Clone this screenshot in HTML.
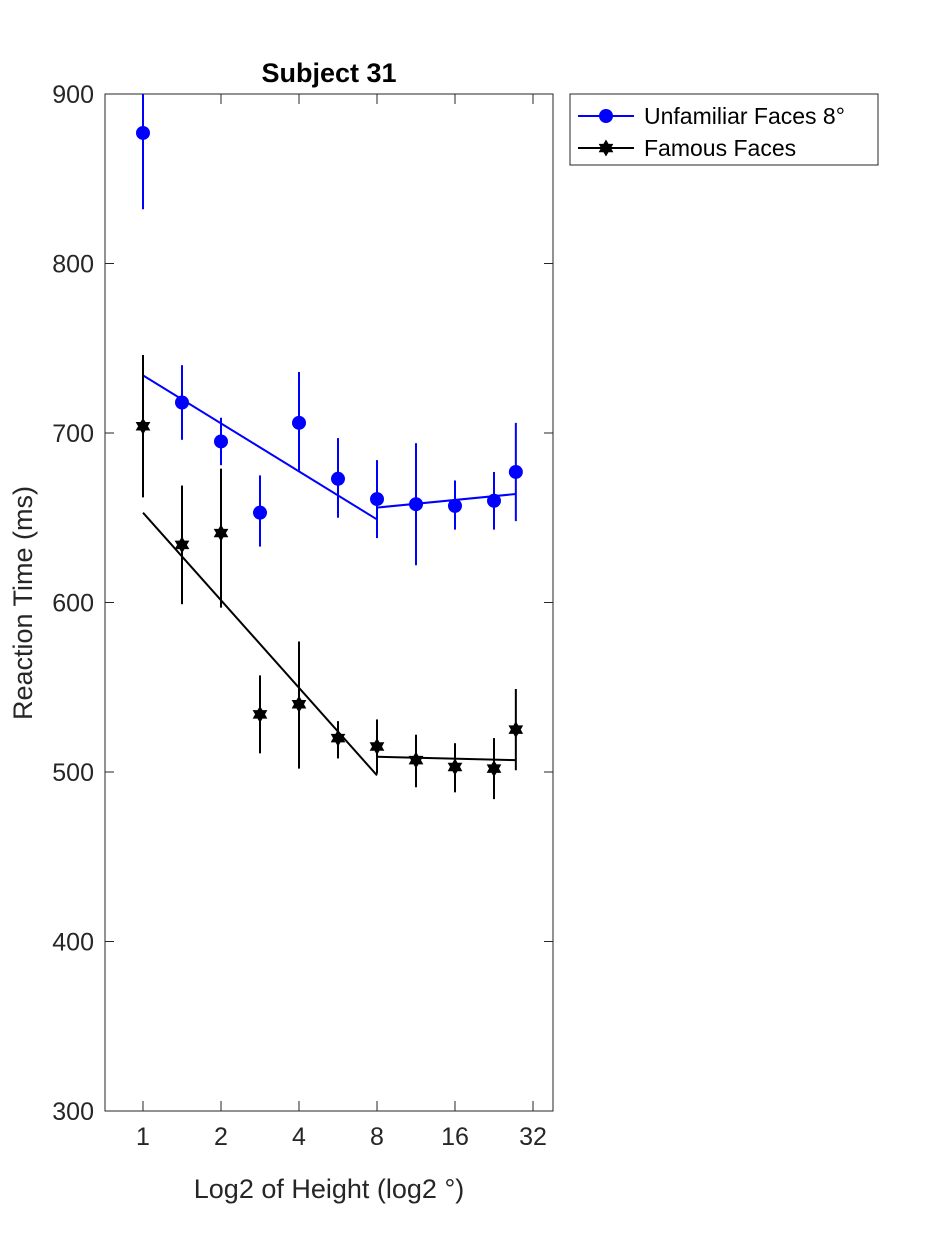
<!DOCTYPE html>
<html><head><meta charset="utf-8"><style>
body{margin:0;background:#fff}
svg text{font-family:"Liberation Sans",sans-serif}
</style></head><body>
<svg id="chart" width="938" height="1250" xmlns="http://www.w3.org/2000/svg">
<rect width="938" height="1250" fill="#fff"/>
<defs><clipPath id="pc"><rect x="105" y="94" width="448" height="1017"/></clipPath></defs>
<g id="plot"></g>
</svg>
<script>
const xLog = [0,0.5,1,1.5,2,2.5,3,3.5,4,4.5,4.78];
const blueMean = [877,718,695,653,706,673,661,658,657,660,677];
const blueHi   = [905,740,709,675,736,697,684,694,672,677,706];
const blueLo   = [832,696,681,633,677,650,638,622,643,643,648];
const blackMean= [704,634,641,534,540,520,515,507,503,502,525];
const blackHi  = [746,669,679,557,577,530,531,522,517,520,549];
const blackLo  = [662,599,597,511,502,508,499,491,488,484,501];
const blueFitX = [[0,3],[3,4.78]];
const blueFitY = [[734,649],[656,664]];
const blackFitX= [[0,3],[3,4.78]];
const blackFitY= [[653,498],[509,507]];
const yTicks = [300,400,500,600,700,800,900];
const xTicks = [0,1,2,3,4,5];
const xTickLabels = ["1","2","4","8","16","32"];

const L=105,R=553,T=94,B=1111;
const X=v=>143+v*78;
const Y=v=>T+(900-v)*(B-T)/600;
const NS="http://www.w3.org/2000/svg";
const svg=document.getElementById('chart');
const g=document.getElementById('plot');
function mk(tag,attrs,parent){const e=document.createElementNS(NS,tag);for(const k in attrs)e.setAttribute(k,attrs[k]);(parent||g).appendChild(e);return e;}

const frame=mk('rect',{x:L,y:T,width:R-L,height:B-T,fill:'none',stroke:'#262626','stroke-width':1});


yTicks.forEach(v=>{
  const y=Y(v);
  const t1=mk('line',{x1:L,x2:L+9,y1:y,y2:y,stroke:'#262626'});
  
  
  mk('line',{x1:R-9,x2:R,y1:y,y2:y,stroke:'#262626'});
  const tx=mk('text',{x:L-11,y:y+9,'text-anchor':'end','font-size':25,fill:'#262626'});
  tx.textContent=v;
  
  
});
xTicks.forEach((v,i)=>{
  const x=X(v);
  const t1=mk('line',{x1:x,x2:x,y1:B,y2:B-10,stroke:'#262626'});
  
  
  mk('line',{x1:x,x2:x,y1:T,y2:T+10,stroke:'#262626'});
  const tx=mk('text',{x:x,y:B+34,'text-anchor':'middle','font-size':25,fill:'#262626'});
  tx.textContent=xTickLabels[i];
  
  
});
const title=mk('text',{x:329,y:82,'text-anchor':'middle','font-size':27,'font-weight':'bold',fill:'#000'});
title.textContent='Subject 31';


const xl=mk('text',{x:329,y:1198,'text-anchor':'middle','font-size':27,fill:'#262626'});
xl.textContent='Log2 of Height (log2 °)';


const yl=mk('text',{x:0,y:0,'text-anchor':'middle','font-size':27,fill:'#262626',transform:'translate(32,603) rotate(-90)'});
yl.textContent='Reaction Time (ms)';



const cg=mk('g',{'clip-path':'url(#pc)'});
function star(cx,cy,r,col,parent){
  const pts=[];
  for(let k=0;k<12;k++){const a=-Math.PI/2+k*Math.PI/6;const rr=k%2?r*0.58:r;pts.push((cx+rr*Math.cos(a)).toFixed(1)+','+(cy+rr*Math.sin(a)).toFixed(1));}
  return mk('polygon',{points:pts.join(' '),fill:col,stroke:col},parent);
}
function series(mean,hi,lo,fx,fy,col,name,marker){
  fx.forEach((seg,i)=>{
    const l=mk('line',{x1:X(seg[0]),x2:X(seg[1]),y1:Y(fy[i][0]),y2:Y(fy[i][1]),stroke:col,'stroke-width':2},cg);
    
    
  });
  xLog.forEach((xv,i)=>{
    const e=mk('line',{x1:X(xv),x2:X(xv),y1:Y(hi[i]),y2:Y(lo[i]),stroke:col,'stroke-width':2},cg);
    
    
    let m;
    if(marker==='circle') m=mk('circle',{cx:X(xv),cy:Y(mean[i]),r:7,fill:col},cg);
    else m=star(X(xv),Y(mean[i]),7.5,col,cg);
    
    
  });
}
series(blueMean,blueHi,blueLo,blueFitX,blueFitY,'#0000ff','unfamiliar','circle');
series(blackMean,blackHi,blackLo,blackFitX,blackFitY,'#000000','famous','star');

// legend
const lg=mk('g',{});


mk('rect',{x:570,y:94,width:308,height:71,fill:'#fff',stroke:'#262626'},lg);
const l1=mk('line',{x1:578,x2:634,y1:116,y2:116,stroke:'#0000ff','stroke-width':2},lg);


mk('circle',{cx:606,cy:116,r:7,fill:'#0000ff'},lg);
const t1=mk('text',{x:644,y:124,'font-size':23,fill:'#000'},lg);t1.textContent='Unfamiliar Faces 8°';
const l2=mk('line',{x1:578,x2:634,y1:148,y2:148,stroke:'#000','stroke-width':2},lg);


star(606,148,7.5,'#000',lg);
const t2=mk('text',{x:644,y:156,'font-size':23,fill:'#000'},lg);t2.textContent='Famous Faces';
</script>
</body></html>
